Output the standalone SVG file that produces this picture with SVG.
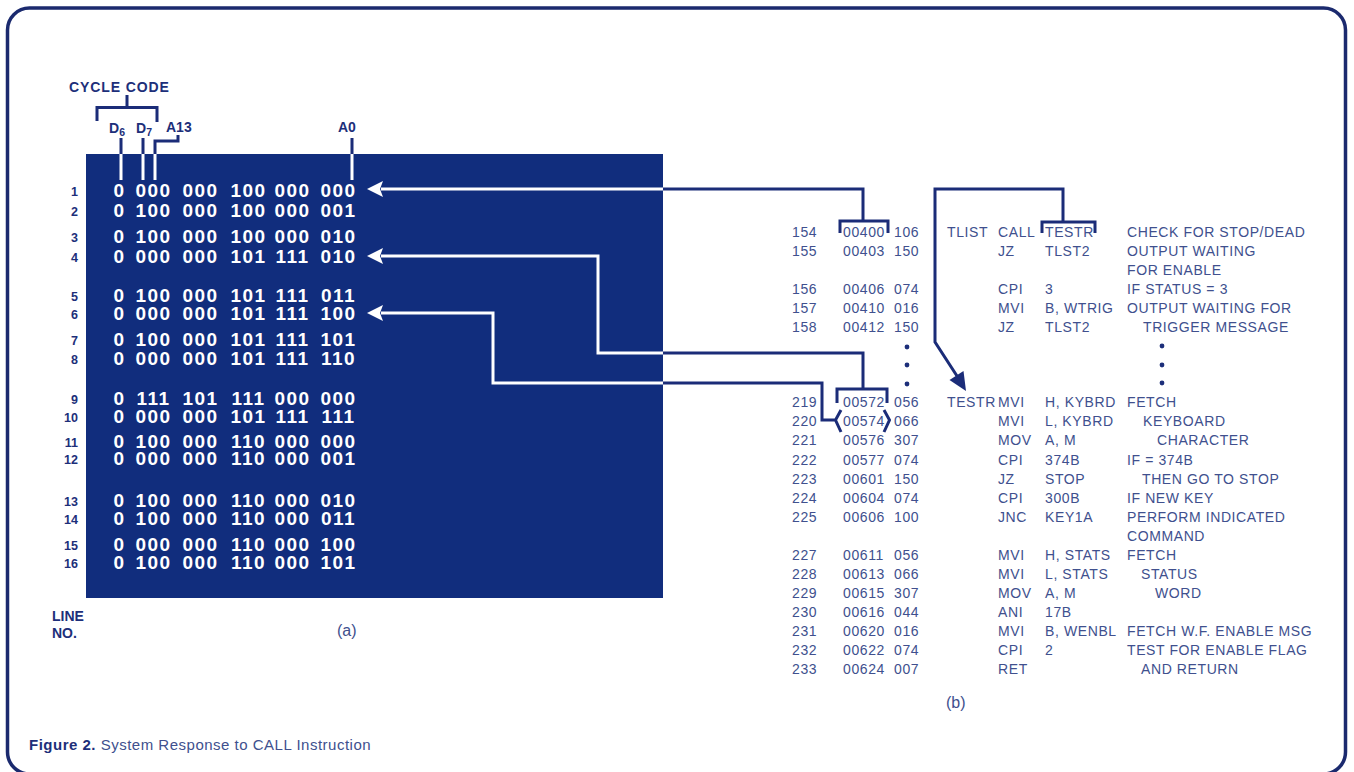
<svg xmlns="http://www.w3.org/2000/svg" width="1354" height="772" viewBox="0 0 1354 772">
<style>
.nv{stroke:#1b2c78;fill:none;stroke-width:3}
.wh{stroke:#ffffff;fill:none;stroke-width:3}
.dg{font-family:"Liberation Sans",Arial,sans-serif;font-weight:bold;font-size:19px;fill:#ffffff;text-anchor:middle;letter-spacing:1.5px}
.ln{font-family:"Liberation Sans",Arial,sans-serif;font-weight:bold;font-size:12.5px;fill:#1d2f7a;text-anchor:end}
.lb{font-family:"Liberation Sans",Arial,sans-serif;font-weight:bold;font-size:14px;fill:#1d2f7a}
.sb{font-size:10.5px}
.ls{font-family:"Liberation Sans",Arial,sans-serif;font-size:14px;fill:#40508e;letter-spacing:0.6px}
.cap{font-family:"Liberation Sans",Arial,sans-serif;font-size:15px;fill:#40508e;letter-spacing:0.5px}
</style>
<rect width="1354" height="772" fill="#ffffff"/>
<g id="border">
<rect x="7.5" y="8" width="1338" height="766" rx="22" ry="22" fill="none" stroke="#1b2a6e" stroke-width="3.5"/>
</g>

<g id="panel-a">
<rect x="86" y="154" width="577" height="444" fill="#112d7d"/>
<g class="dg">
<text y="197"><tspan x="119.5">0</tspan><tspan x="153.5">000</tspan><tspan x="200.5">000</tspan><tspan x="248.5">100</tspan><tspan x="292.5">000</tspan><tspan x="338.5">000</tspan></text>
<text y="217"><tspan x="119.5">0</tspan><tspan x="153.5">100</tspan><tspan x="200.5">000</tspan><tspan x="248.5">100</tspan><tspan x="292.5">000</tspan><tspan x="338.5">001</tspan></text>
<text y="243"><tspan x="119.5">0</tspan><tspan x="153.5">100</tspan><tspan x="200.5">000</tspan><tspan x="248.5">100</tspan><tspan x="292.5">000</tspan><tspan x="338.5">010</tspan></text>
<text y="263"><tspan x="119.5">0</tspan><tspan x="153.5">000</tspan><tspan x="200.5">000</tspan><tspan x="248.5">101</tspan><tspan x="292.5">111</tspan><tspan x="338.5">010</tspan></text>
<text y="302"><tspan x="119.5">0</tspan><tspan x="153.5">100</tspan><tspan x="200.5">000</tspan><tspan x="248.5">101</tspan><tspan x="292.5">111</tspan><tspan x="338.5">011</tspan></text>
<text y="320"><tspan x="119.5">0</tspan><tspan x="153.5">000</tspan><tspan x="200.5">000</tspan><tspan x="248.5">101</tspan><tspan x="292.5">111</tspan><tspan x="338.5">100</tspan></text>
<text y="346"><tspan x="119.5">0</tspan><tspan x="153.5">100</tspan><tspan x="200.5">000</tspan><tspan x="248.5">101</tspan><tspan x="292.5">111</tspan><tspan x="338.5">101</tspan></text>
<text y="365"><tspan x="119.5">0</tspan><tspan x="153.5">000</tspan><tspan x="200.5">000</tspan><tspan x="248.5">101</tspan><tspan x="292.5">111</tspan><tspan x="338.5">110</tspan></text>
<text y="405"><tspan x="119.5">0</tspan><tspan x="153.5">111</tspan><tspan x="200.5">101</tspan><tspan x="248.5">111</tspan><tspan x="292.5">000</tspan><tspan x="338.5">000</tspan></text>
<text y="423"><tspan x="119.5">0</tspan><tspan x="153.5">000</tspan><tspan x="200.5">000</tspan><tspan x="248.5">101</tspan><tspan x="292.5">111</tspan><tspan x="338.5">111</tspan></text>
<text y="448"><tspan x="119.5">0</tspan><tspan x="153.5">100</tspan><tspan x="200.5">000</tspan><tspan x="248.5">110</tspan><tspan x="292.5">000</tspan><tspan x="338.5">000</tspan></text>
<text y="465"><tspan x="119.5">0</tspan><tspan x="153.5">000</tspan><tspan x="200.5">000</tspan><tspan x="248.5">110</tspan><tspan x="292.5">000</tspan><tspan x="338.5">001</tspan></text>
<text y="507"><tspan x="119.5">0</tspan><tspan x="153.5">100</tspan><tspan x="200.5">000</tspan><tspan x="248.5">110</tspan><tspan x="292.5">000</tspan><tspan x="338.5">010</tspan></text>
<text y="525"><tspan x="119.5">0</tspan><tspan x="153.5">100</tspan><tspan x="200.5">000</tspan><tspan x="248.5">110</tspan><tspan x="292.5">000</tspan><tspan x="338.5">011</tspan></text>
<text y="551"><tspan x="119.5">0</tspan><tspan x="153.5">000</tspan><tspan x="200.5">000</tspan><tspan x="248.5">110</tspan><tspan x="292.5">000</tspan><tspan x="338.5">100</tspan></text>
<text y="569"><tspan x="119.5">0</tspan><tspan x="153.5">100</tspan><tspan x="200.5">000</tspan><tspan x="248.5">110</tspan><tspan x="292.5">000</tspan><tspan x="338.5">101</tspan></text>
</g>
</g>

<g id="line-numbers" class="ln">
<text x="78" y="196">1</text><text x="78" y="216">2</text>
<text x="78" y="242">3</text><text x="78" y="262">4</text>
<text x="78" y="301">5</text><text x="78" y="319">6</text>
<text x="78" y="345">7</text><text x="78" y="364">8</text>
<text x="78" y="404">9</text><text x="78" y="422">10</text>
<text x="78" y="447">11</text><text x="78" y="464">12</text>
<text x="78" y="506">13</text><text x="78" y="524">14</text>
<text x="78" y="550">15</text><text x="78" y="568">16</text>
</g>
<g id="line-no-label">
<text class="lb" x="52" y="621" font-size="12.5">LINE</text>
<text class="lb" x="52" y="638" font-size="12.5">NO.</text>
</g>
<text id="label-a" x="337" y="636" font-family="Liberation Sans, Arial, sans-serif" font-size="16" fill="#40508e">(a)</text>

<g id="bit-labels">
<text class="lb" x="69" y="92" letter-spacing="0.9">CYCLE CODE</text>
<text class="lb" x="109" y="133">D<tspan class="sb" dy="3">6</tspan></text>
<text class="lb" x="136" y="133">D<tspan class="sb" dy="3">7</tspan></text>
<text class="lb" x="166" y="132">A13</text>
<text class="lb" x="338" y="132">A0</text>
<path class="nv" d="M127 95 V107.5 M97 121 V107.5 H157 V122"/>
<path class="nv" d="M121 138 V154 M143 138 V154 M178 135 V141 H155 V154 M352 138 V154"/>
<path class="wh" d="M121 154 V180 M143 154 V180 M155 154 V180 M352 154 V180"/>
</g>

<g id="listing-b" class="ls">
<text y="237"><tspan x="792">154</tspan><tspan x="843">00400</tspan><tspan x="894">106</tspan><tspan x="947">TLIST</tspan><tspan x="998">CALL</tspan><tspan x="1045">TESTR</tspan><tspan x="1127">CHECK FOR STOP/DEAD</tspan></text>
<text y="256"><tspan x="792">155</tspan><tspan x="843">00403</tspan><tspan x="894">150</tspan><tspan x="998">JZ</tspan><tspan x="1045">TLST2</tspan><tspan x="1127">OUTPUT WAITING</tspan></text>
<text y="275"><tspan x="1127">FOR ENABLE</tspan></text>
<text y="294"><tspan x="792">156</tspan><tspan x="843">00406</tspan><tspan x="894">074</tspan><tspan x="998">CPI</tspan><tspan x="1045">3</tspan><tspan x="1127">IF STATUS = 3</tspan></text>
<text y="313"><tspan x="792">157</tspan><tspan x="843">00410</tspan><tspan x="894">016</tspan><tspan x="998">MVI</tspan><tspan x="1045">B, WTRIG</tspan><tspan x="1127">OUTPUT WAITING FOR</tspan></text>
<text y="332"><tspan x="792">158</tspan><tspan x="843">00412</tspan><tspan x="894">150</tspan><tspan x="998">JZ</tspan><tspan x="1045">TLST2</tspan><tspan x="1143">TRIGGER MESSAGE</tspan></text>
<text y="407"><tspan x="792">219</tspan><tspan x="843">00572</tspan><tspan x="894">056</tspan><tspan x="947">TESTR</tspan><tspan x="998">MVI</tspan><tspan x="1045">H, KYBRD</tspan><tspan x="1127">FETCH</tspan></text>
<text y="426"><tspan x="792">220</tspan><tspan x="843">00574</tspan><tspan x="894">066</tspan><tspan x="998">MVI</tspan><tspan x="1045">L, KYBRD</tspan><tspan x="1143">KEYBOARD</tspan></text>
<text y="445"><tspan x="792">221</tspan><tspan x="843">00576</tspan><tspan x="894">307</tspan><tspan x="998">MOV</tspan><tspan x="1045">A, M</tspan><tspan x="1157">CHARACTER</tspan></text>
<text y="465"><tspan x="792">222</tspan><tspan x="843">00577</tspan><tspan x="894">074</tspan><tspan x="998">CPI</tspan><tspan x="1045">374B</tspan><tspan x="1127">IF = 374B</tspan></text>
<text y="484"><tspan x="792">223</tspan><tspan x="843">00601</tspan><tspan x="894">150</tspan><tspan x="998">JZ</tspan><tspan x="1045">STOP</tspan><tspan x="1142">THEN GO TO STOP</tspan></text>
<text y="503"><tspan x="792">224</tspan><tspan x="843">00604</tspan><tspan x="894">074</tspan><tspan x="998">CPI</tspan><tspan x="1045">300B</tspan><tspan x="1127">IF NEW KEY</tspan></text>
<text y="522"><tspan x="792">225</tspan><tspan x="843">00606</tspan><tspan x="894">100</tspan><tspan x="998">JNC</tspan><tspan x="1045">KEY1A</tspan><tspan x="1127">PERFORM INDICATED</tspan></text>
<text y="541"><tspan x="1127">COMMAND</tspan></text>
<text y="560"><tspan x="792">227</tspan><tspan x="843">00611</tspan><tspan x="894">056</tspan><tspan x="998">MVI</tspan><tspan x="1045">H, STATS</tspan><tspan x="1127">FETCH</tspan></text>
<text y="579"><tspan x="792">228</tspan><tspan x="843">00613</tspan><tspan x="894">066</tspan><tspan x="998">MVI</tspan><tspan x="1045">L, STATS</tspan><tspan x="1141">STATUS</tspan></text>
<text y="598"><tspan x="792">229</tspan><tspan x="843">00615</tspan><tspan x="894">307</tspan><tspan x="998">MOV</tspan><tspan x="1045">A, M</tspan><tspan x="1155">WORD</tspan></text>
<text y="617"><tspan x="792">230</tspan><tspan x="843">00616</tspan><tspan x="894">044</tspan><tspan x="998">ANI</tspan><tspan x="1045">17B</tspan></text>
<text y="636"><tspan x="792">231</tspan><tspan x="843">00620</tspan><tspan x="894">016</tspan><tspan x="998">MVI</tspan><tspan x="1045">B, WENBL</tspan><tspan x="1127">FETCH W.F. ENABLE MSG</tspan></text>
<text y="655"><tspan x="792">232</tspan><tspan x="843">00622</tspan><tspan x="894">074</tspan><tspan x="998">CPI</tspan><tspan x="1045">2</tspan><tspan x="1127">TEST FOR ENABLE FLAG</tspan></text>
<text y="674"><tspan x="792">233</tspan><tspan x="843">00624</tspan><tspan x="894">007</tspan><tspan x="998">RET</tspan><tspan x="1141">AND RETURN</tspan></text>
</g>
<g id="ellipsis" fill="#1d2f7a">
<circle cx="907" cy="347" r="2.4"/><circle cx="907" cy="365" r="2.4"/><circle cx="907" cy="384" r="2.4"/>
<circle cx="1162" cy="346" r="2.4"/><circle cx="1162" cy="365" r="2.4"/><circle cx="1162" cy="383" r="2.4"/>
</g>
<text id="label-b" x="946" y="708" font-family="Liberation Sans, Arial, sans-serif" font-size="16" fill="#40508e">(b)</text>

<g id="connectors">
<path class="wh" d="M381 189 H663"/>
<polygon points="367,189 383,181 380,189 383,197" fill="#ffffff"/>
<path class="nv" d="M663 189 H863 V221 M840 233 V221 H888 V233"/>
<path class="wh" d="M381 256 H598 V353 H663"/>
<polygon points="367,256 383,248 380,256 383,264" fill="#ffffff"/>
<path class="nv" d="M663 353 H863 V389 M837 403 V389 H887 V403"/>
<path class="wh" d="M381 313 H493 V383 H663"/>
<polygon points="367,313 383,305 380,313 383,321" fill="#ffffff"/>
<path class="nv" d="M663 383 H822 V420 H835 M841 410 L835.5 420 L841 432 M884 410 L889.5 420 L884 432"/>
<path class="nv" d="M1042 233 V222 H1095 V233 M1063 222 V189 H935 V342 L957 376"/>
<polygon points="966,391 949.5,380 963.5,371" fill="#1b2c78"/>
</g>

<g id="caption">
<text class="cap" x="29" y="750"><tspan font-weight="bold" fill="#1d2f7a">Figure 2.</tspan> System Response to CALL Instruction</text>
</g>
</svg>
